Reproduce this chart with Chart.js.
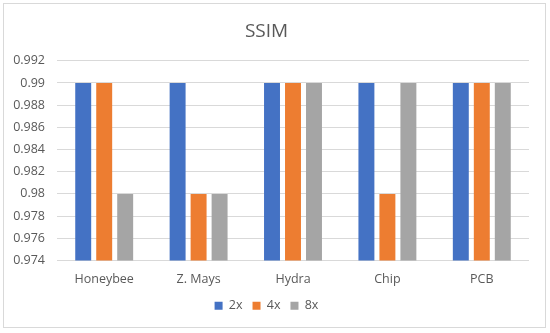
<!DOCTYPE html>
<html>
<head>
<meta charset="utf-8">
<script src="https://cdn.jsdelivr.net/npm/chart.js@4"></script>
<style>
  body { margin: 0; background: #fff; }
  #box { position: absolute; left: 3px; top: 3px; width: 541px; height: 323px; border: 1px solid #d9d9d9; }
  canvas { display: block; }
</style>
</head>
<body>
<div id="box"><canvas id="chart" width="541" height="323"></canvas></div>
<script>
const categories = ['Honeybee', 'Z. Mays', 'Hydra', 'Chip', 'PCB'];
const seriesNames = ['2x', '4x', '8x'];
const ssim2x = [0.99, 0.99, 0.99, 0.99, 0.99];
const ssim4x = [0.99, 0.98, 0.99, 0.98, 0.99];
const ssim8x = [0.98, 0.98, 0.99, 0.99, 0.99];
const colors = ['#4472C4', '#ED7D31', '#A5A5A5'];

const font = "'Open Sans', 'Noto Sans', sans-serif";
const textColor = '#595959';

const ctx = document.getElementById('chart').getContext('2d');
new Chart(ctx, {
    type: 'bar',
    data: {
        labels: categories,
        datasets: [ssim2x, ssim4x, ssim8x].map((d, i) => ({
            label: seriesNames[i],
            data: d,
            backgroundColor: colors[i],
            categoryPercentage: 0.667,
            barPercentage: 0.76
        }))
    },
    options: {
        responsive: false,
        animation: false,
        layout: { padding: { left: 0, right: 16, top: 10, bottom: 5 } },
        plugins: {
            title: { display: true, text: 'SSIM', color: textColor, font: { family: font, size: 19, weight: 'normal' }, padding: { top: 6, bottom: 18 } },
            legend: {
                position: 'bottom',
                labels: { color: textColor, font: { family: font, size: 12.5 }, boxWidth: 8, boxHeight: 8, padding: 10 }
            },
            tooltip: { enabled: false }
        },
        scales: {
            x: {
                grid: { display: false },
                border: { display: false },
                ticks: { color: textColor, font: { family: font, size: 12.5 }, padding: 3 }
            },
            y: {
                min: 0.974,
                max: 0.992,
                afterFit: s => { s.width = 53; },
                grid: { color: '#d9d9d9', drawTicks: false },
                border: { display: false },
                ticks: {
                    stepSize: 0.002,
                    color: textColor,
                    font: { family: font, size: 12.5 },
                    padding: 12,
                    callback: v => String(+v.toFixed(3))
                }
            }
        }
    }
});
</script>
</body>
</html>
